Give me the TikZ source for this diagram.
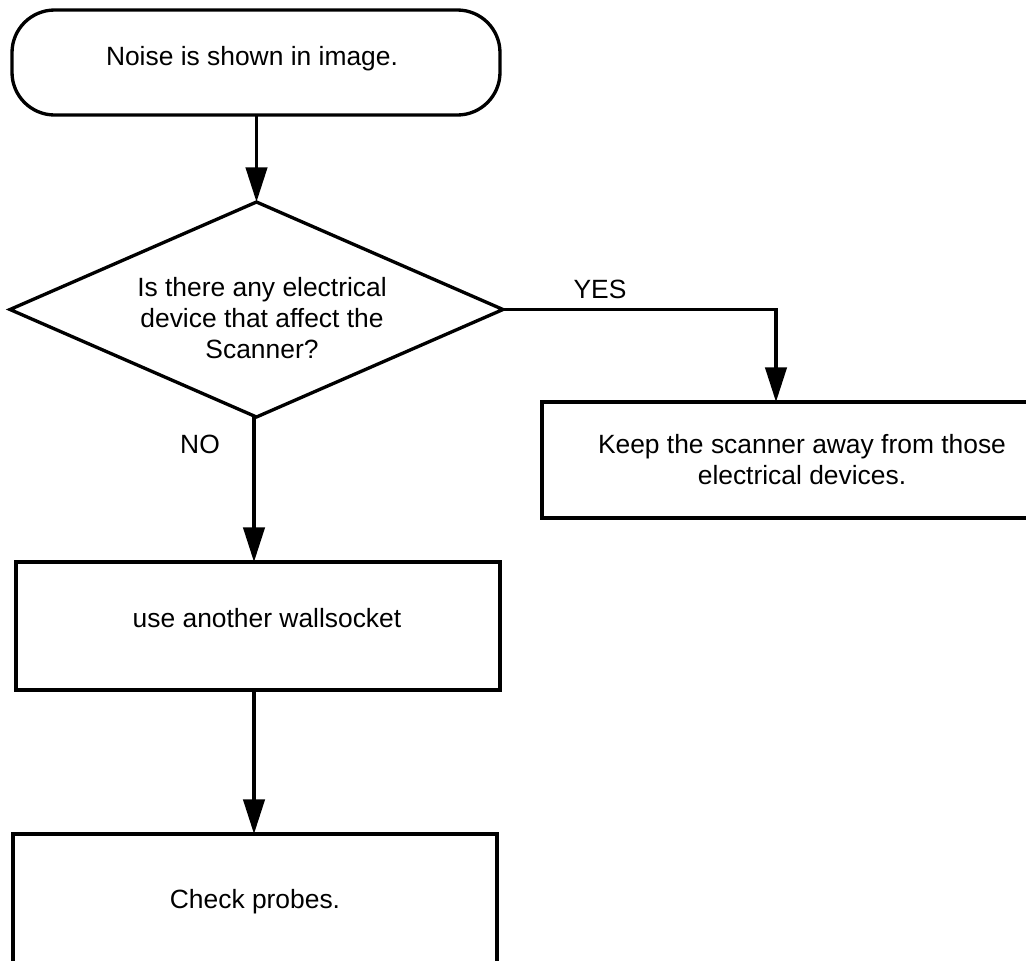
\documentclass[tikz,border=0pt]{standalone}
\usepackage{fontspec}
\setmainfont{Liberation Sans}
\usetikzlibrary{shapes.geometric,arrows.meta}
\begin{document}
\begin{tikzpicture}[x=0.75pt,y=-0.75pt,
  every node/.style={font=\fontsize{19.8pt}{23.1pt}\selectfont},
  shapeline/.style={draw=black,line width=2.5pt,inner sep=0pt,outer sep=0pt},
  terminal/.style={shapeline,rectangle,rounded corners=32pt},
  decision/.style={shapeline,diamond},
  procbox/.style={shapeline,rectangle},
  txt/.style={anchor=base,align=center,inner sep=0pt},
  flow/.style={line width=2.5pt,-{Triangle[length=26pt,width=16pt]}}
]
\path[use as bounding box] (0,0) rectangle (1026,961);
\clip (0,0) rectangle (1026,961);

% shapes
\node[terminal,minimum width=366pt,minimum height=78.75pt] (start) at (256,62.5) {};
\node[decision,minimum width=369.75pt,minimum height=161.25pt] (dec) at (256.5,309.5) {};
\node[procbox,minimum width=388.5pt,minimum height=87pt] (keep) at (801,460) {};
\node[procbox,minimum width=363pt,minimum height=96pt] (wall) at (258,626) {};
\node[procbox,minimum width=363pt,minimum height=124.5pt] (check) at (255,917) {};

% texts (base anchor = baseline of last line)
\node[txt] (tstart) at (252,65) {Noise is shown in image.};
\node[txt] (tdec) at (262,358) {Is there any electrical\\device that affect the\\Scanner?};
\node[txt] (tkeep) at (802,484) {Keep the scanner away from those\\electrical devices.};
\node[txt] (twall) at (267,627) {use another wallsocket};
\node[txt] (tcheck) at (255,908) {Check probes.};
\node[txt] (yes) at (600,298) {YES};
\node[txt] (no) at (200,453) {NO};

% connectors
\coordinate (keepin) at (776,402);
\draw[flow] (start.south -| dec.north) -- (dec.north);
\draw[flow] (dec.east) -| (keepin);
\draw[flow] (dec.south -| 254,0) -- (254,0 |- wall.north);
\draw[flow] (wall.south -| 254,0) -- (254,0 |- check.north);
\end{tikzpicture}
\end{document}
